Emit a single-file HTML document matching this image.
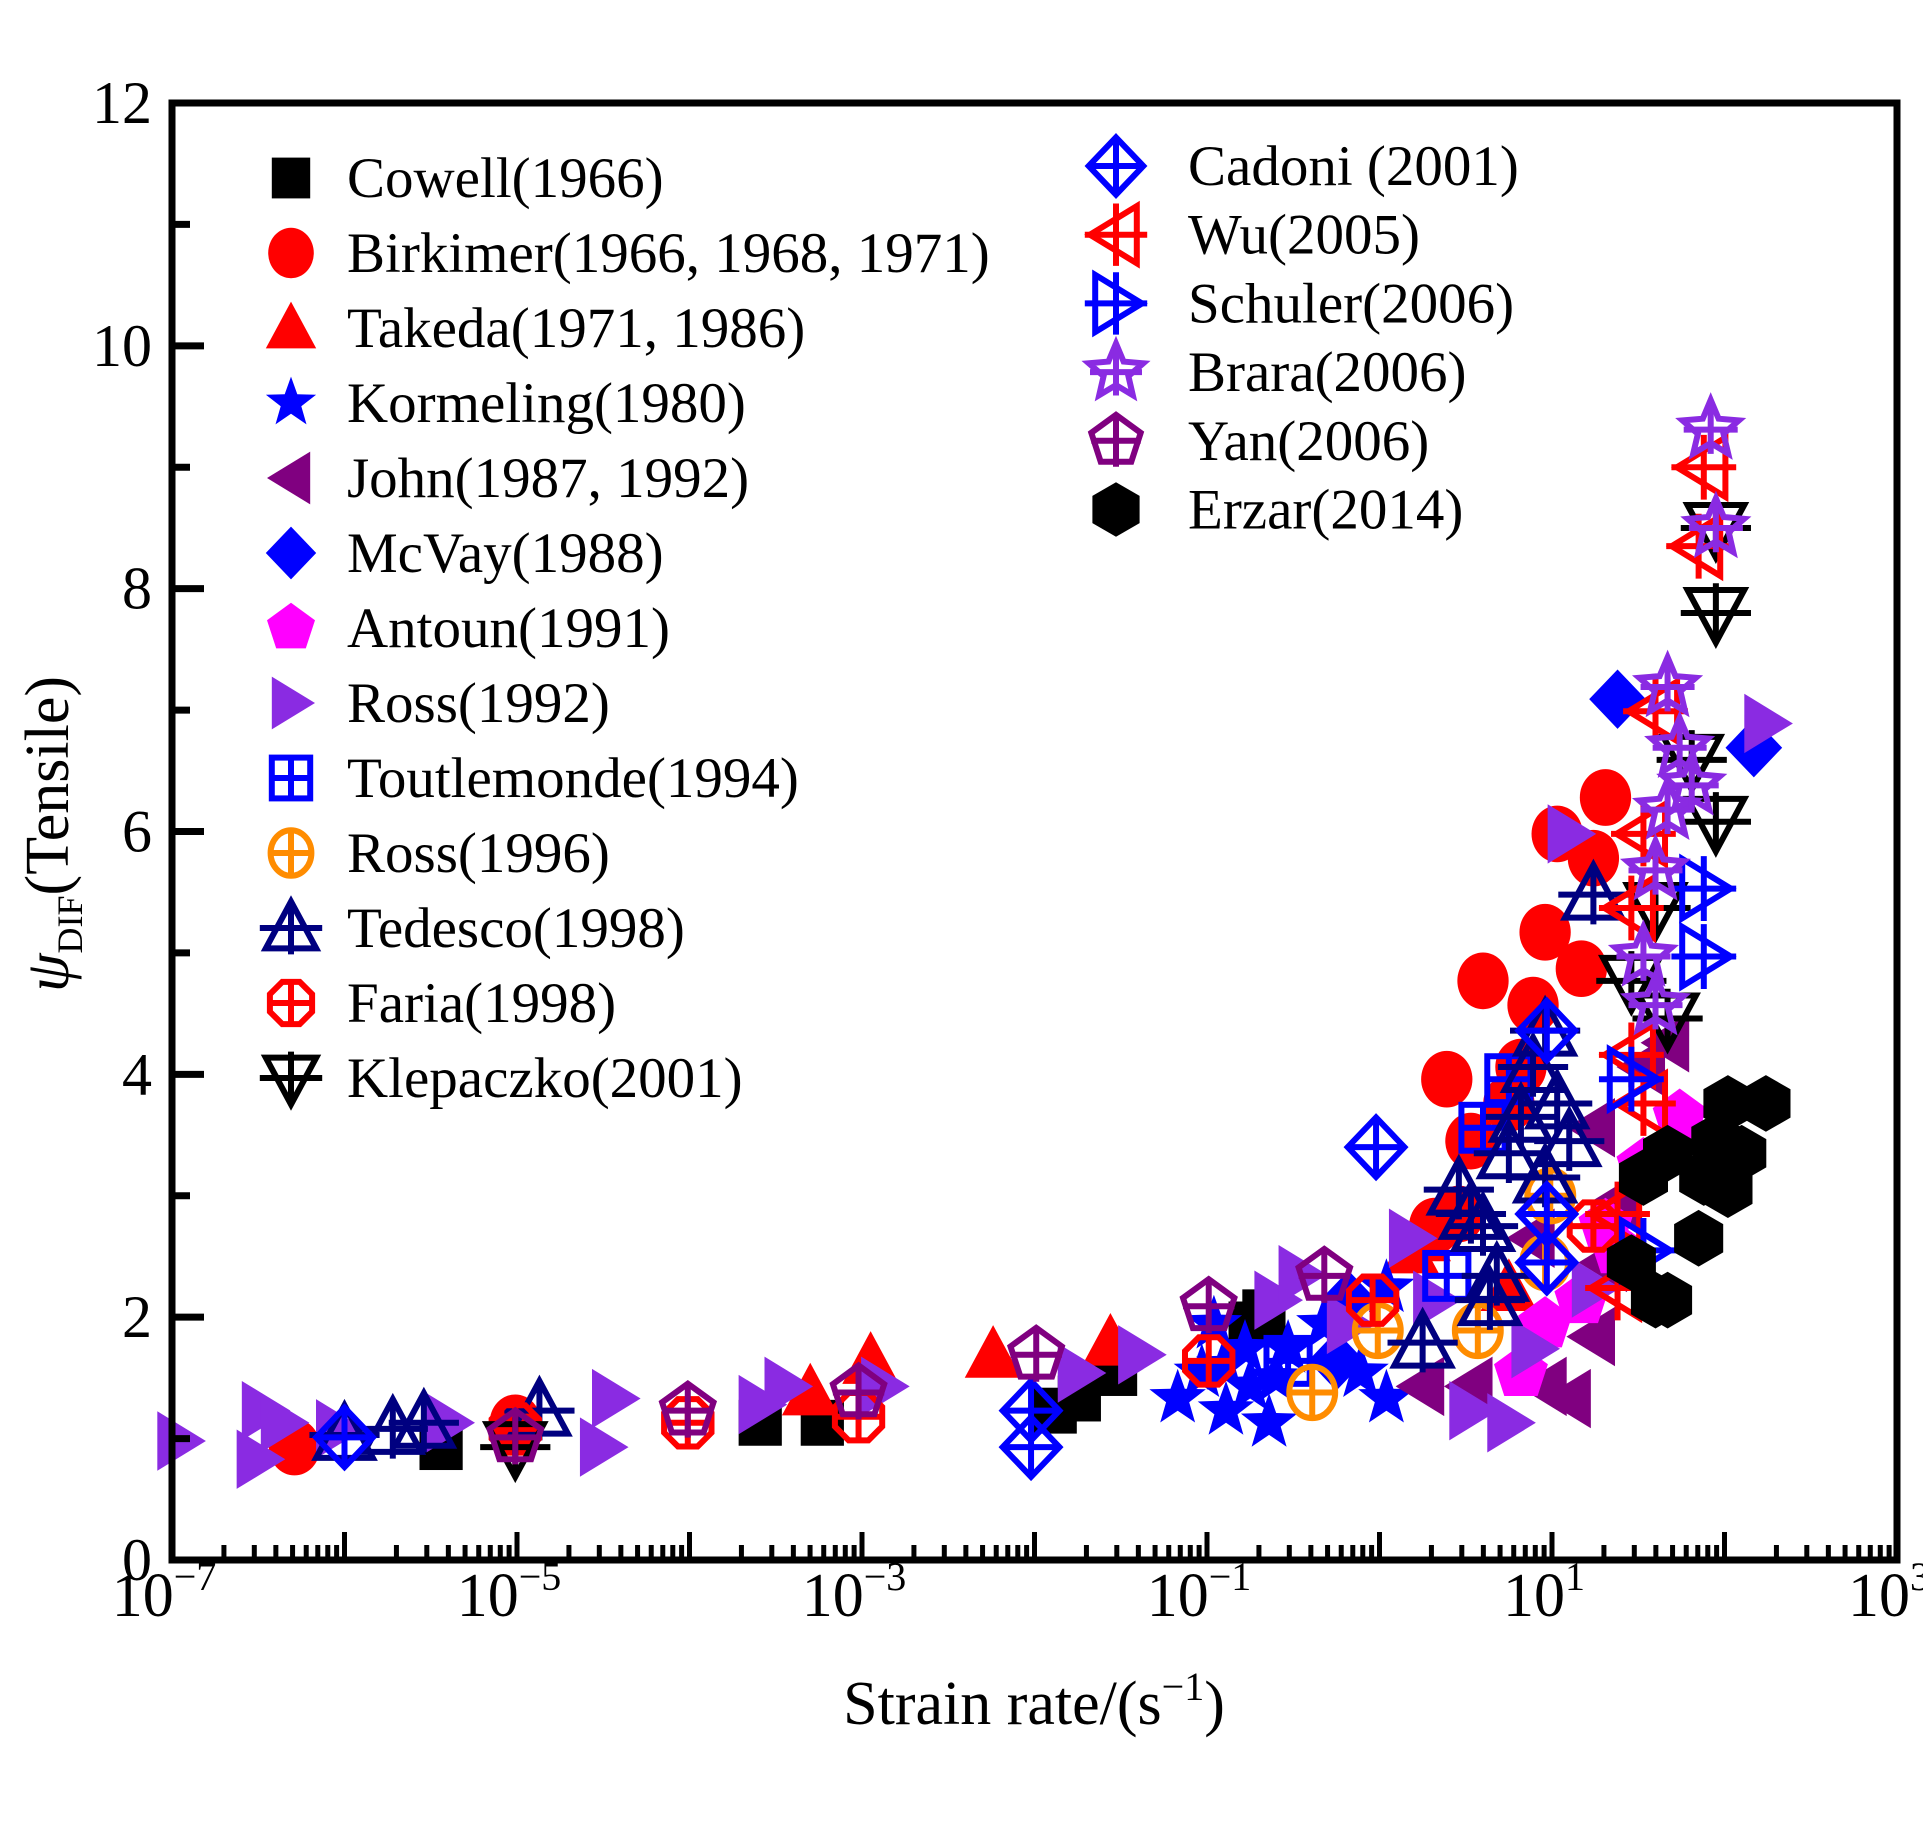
<!DOCTYPE html>
<html><head><meta charset="utf-8"><style>
html,body{margin:0;padding:0;background:#fff;}
svg text{font-family:"Liberation Serif",serif;fill:#000;}
</style></head><body>
<svg id="chart" width="1923" height="1819" viewBox="0 0 1923 1819" xmlns="http://www.w3.org/2000/svg">
<g id="marks"></g>
<g id="axes"></g>
<g id="legend"></g>
<text x="1034" y="1724" font-size="62" text-anchor="middle">Strain rate/(s<tspan dy="-24" font-size="40">−1</tspan><tspan dy="24">)</tspan></text>
<text transform="translate(68,834) rotate(-90)" font-size="62" text-anchor="middle"><tspan font-style="italic">ψ</tspan><tspan dy="14" font-size="36">DIF</tspan><tspan dy="-14">(Tensile)</tspan></text>
</svg>
<script>
const xTickLabels=["−7","−5","−3","−1","1","3"];
const yTickLabels=["0","2","4","6","8","10","12"];
const seriesNames=["Cowell(1966)","Birkimer(1966, 1968, 1971)","Takeda(1971, 1986)","Kormeling(1980)","John(1987, 1992)","McVay(1988)","Antoun(1991)","Ross(1992)","Toutlemonde(1994)","Ross(1996)","Tedesco(1998)","Faria(1998)","Klepaczko(2001)","Cadoni (2001)","Wu(2005)","Schuler(2006)","Brara(2006)","Yan(2006)","Erzar(2014)"];
const seriesShapes=["square","circle","triUp","star","triLeft","diamond","pentagon","triRight","boxPlus","circPlus","triUpOpen","octPlus","triDownOpen","diamPlus","triLeftOpen","triRightOpen","starOpen","pentPlus","hexagon"];
const seriesColors=["#000","#f00","#f00","#0000ff","#800080","#0000ff","#ff00ff","#8a2be2","#0000ff","#ff8c00","#000080","#f00","#000","#0000ff","#f00","#0000ff","#8a2be2","#800080","#000"];
// values: [log10 strain rate, DIF]
const cowell=[[-5.44,0.93],[-3.59,1.13],[-3.23,1.13],[-1.88,1.23],[-1.74,1.33],[-1.53,1.54],[-0.75,1.94],[-0.67,2.04]];
const birkimer=[[-6.29,0.93],[-5.01,1.13],[0.6,4.77],[0.39,3.96],[0.53,3.45],[0.46,2.85],[0.82,4.06],[0.96,5.17],[0.89,4.57],[1.24,5.78],[1.31,6.28],[1.17,4.87],[1.03,5.98],[0.75,3.76],[0.32,2.75]];
const takeda=[[-3.3,1.38],[-2.95,1.64],[-2.24,1.69],[-1.56,1.79],[0.18,2.55],[0.25,2.65],[0.75,2.24]];
const kormeling=[[-1.17,1.33],[-1.03,1.54],[-0.89,1.23],[-0.75,1.43],[-0.64,1.13],[-0.53,1.74],[-0.32,1.94],[-0.11,1.54],[0.04,1.33],[0.04,2.24],[-0.96,1.94],[-0.78,1.74],[-0.9,1.6],[-0.6,1.5]];
const john=[[0.25,1.43],[0.53,1.43],[0.96,1.43],[1.1,1.33],[1.24,1.84],[1.31,2.45],[1.38,2.95],[1.24,3.56],[1.53,4.06],[1.67,4.26],[0.89,2.65]];
const mcvay=[[1.38,7.09],[2.17,6.69],[-0.25,1.64],[-0.18,2.14]];
const antoun=[[0.96,1.94],[1.17,2.14],[1.38,2.55],[1.53,3.25],[1.74,3.65],[0.82,1.54],[1.31,2.75]];
const ross1992=[[-6.96,0.98],[-6.5,0.83],[-6.47,1.23],[-6.36,1.13],[-6.04,1.08],[-5.4,1.13],[-4.51,0.93],[-4.44,1.33],[-3.59,1.28],[-3.44,1.43],[-2.88,1.43],[-1.74,1.54],[-1.39,1.69],[-0.6,2.14],[-0.46,2.35],[0.18,2.65],[0.32,2.14],[0.53,1.23],[0.75,1.13],[0.89,1.74],[1.1,5.98],[1.24,2.24],[2.24,6.89],[-0.18,1.94]];
const toutlemonde=[[0.6,3.56],[0.75,3.96],[-0.53,1.64],[0.39,2.34]];
const ross1996=[[-0.39,1.38],[0.57,1.89],[-0.01,1.89],[0.99,3.0],[0.96,2.45]];
const tedesco=[[-6.0,1.03],[-5.72,1.08],[-5.54,1.13],[-4.87,1.23],[0.25,1.79],[0.46,3.05],[0.6,2.75],[0.68,2.34],[0.75,3.35],[0.82,3.65],[0.89,4.06],[0.96,4.36],[1.03,3.76],[1.1,3.45],[1.24,5.48],[0.64,2.14],[0.53,2.85],[0.96,3.15]];
const faria=[[-5.01,1.08],[-4.01,1.13],[-3.02,1.18],[-0.99,1.64],[-0.04,2.14],[1.24,2.75]];
const klepaczko=[[-5.01,0.93],[1.95,7.8],[1.95,8.5],[1.81,6.59],[1.95,6.08],[1.6,5.37],[1.46,4.77],[1.67,4.46]];
const cadoni=[[-6.0,1.01],[-2.02,1.23],[-2.02,0.93],[-0.02,3.4],[0.97,4.36],[0.97,2.85],[0.97,2.45]];
const wu=[[1.88,9.0],[1.85,8.35],[1.6,6.99],[1.53,5.98],[1.46,5.37],[1.46,4.16],[1.38,2.85],[1.38,2.24],[1.53,3.76]];
const schuler=[[1.88,5.53],[1.88,4.97],[1.46,3.96],[1.53,2.55]];
const brara=[[1.92,9.31],[1.95,8.5],[1.67,7.19],[1.74,6.69],[1.67,6.18],[1.6,5.68],[1.53,4.97],[1.6,4.57],[1.81,6.38]];
const yan=[[-5.01,1.01],[-4.01,1.23],[-3.02,1.38],[-1.99,1.69],[-0.99,2.09],[-0.32,2.34]];
const erzar=[[1.6,2.14],[1.67,2.14],[1.53,3.15],[1.67,3.35],[1.88,3.15],[1.95,3.45],[2.02,3.76],[2.24,3.76],[2.1,3.35],[1.85,2.65],[2.02,3.05],[1.46,2.45]];
const allSeries=[cowell,birkimer,takeda,kormeling,john,mcvay,antoun,ross1992,toutlemonde,ross1996,tedesco,faria,klepaczko,cadoni,wu,schuler,brara,yan,erzar];

const X0=172,X1=1897,Y0=1560,Y1=103;
function sx(l){return X0+(l+7)/10*(X1-X0);}
function sy(v){return Y0-v/12*(Y0-Y1);}
const NS="http://www.w3.org/2000/svg";
function mk(tag,attrs,parent){const e=document.createElementNS(NS,tag);for(const k in attrs)e.setAttribute(k,attrs[k]);parent.appendChild(e);return e;}
function poly(n,r,rot,cx,cy){let p=[];for(let i=0;i<n;i++){const a=rot+i*2*Math.PI/n;p.push((cx+r*Math.cos(a)).toFixed(1)+","+(cy+r*Math.sin(a)).toFixed(1));}return p.join(" ");}
function starPts(cx,cy,R,r){let p=[];for(let i=0;i<10;i++){const a=-Math.PI/2+i*Math.PI/5;const rr=i%2?r:R;p.push((cx+rr*Math.cos(a)).toFixed(1)+","+(cy+rr*Math.sin(a)).toFixed(1));}return p.join(" ");}
function drawMarker(g,shape,c,cx,cy,s){
  const sw=6;let el;const fill={fill:c,stroke:"none"};const open={fill:"none",stroke:c,"stroke-width":sw};
  const cross=(rx,ry)=>{mk("line",{x1:cx-rx,y1:cy,x2:cx+rx,y2:cy,stroke:c,"stroke-width":sw},g);mk("line",{x1:cx,y1:cy-ry,x2:cx,y2:cy+ry,stroke:c,"stroke-width":sw},g);};
  switch(shape){
    case "square":el=mk("rect",Object.assign({x:cx-s*0.8,y:cy-s*0.85,width:s*1.6,height:s*1.7},fill),g);break;
    case "circle":el=mk("ellipse",Object.assign({cx:cx,cy:cy,rx:s*0.95,ry:s*1.05},fill),g);break;
    case "triUp":el=mk("polygon",Object.assign({points:`${cx},${cy-s*1.1} ${cx+s*1.05},${cy+s*0.85} ${cx-s*1.05},${cy+s*0.85}`},fill),g);break;
    case "star":el=mk("polygon",Object.assign({points:starPts(cx,cy,s*1.1,s*0.45)},fill),g);break;
    case "triLeft":el=mk("polygon",Object.assign({points:`${cx-s*1.0},${cy} ${cx+s*0.8},${cy-s*1.1} ${cx+s*0.8},${cy+s*1.1}`},fill),g);break;
    case "diamond":el=mk("polygon",Object.assign({points:`${cx},${cy-s*1.1} ${cx+s*1.05},${cy} ${cx},${cy+s*1.1} ${cx-s*1.05},${cy}`},fill),g);break;
    case "pentagon":el=mk("polygon",Object.assign({points:poly(5,s*1.05,-Math.PI/2,cx,cy)},fill),g);break;
    case "triRight":el=mk("polygon",Object.assign({points:`${cx+s*1.0},${cy} ${cx-s*0.8},${cy-s*1.1} ${cx-s*0.8},${cy+s*1.1}`},fill),g);break;
    case "hexagon":el=mk("polygon",Object.assign({points:poly(6,s*1.05,-Math.PI/2,cx,cy)},fill),g);break;
    case "boxPlus":el=mk("rect",Object.assign({x:cx-s*0.8,y:cy-s*0.85,width:s*1.6,height:s*1.7},open),g);cross(s*0.8,s*0.85);break;
    case "circPlus":el=mk("ellipse",Object.assign({cx:cx,cy:cy,rx:s*0.85,ry:s*0.95},open),g);cross(s*0.85,s*0.95);break;
    case "octPlus":el=mk("polygon",Object.assign({points:poly(8,s*0.95,Math.PI/8,cx,cy)},open),g);cross(s*0.9,s*0.95);break;
    case "triUpOpen":el=mk("polygon",Object.assign({points:`${cx},${cy-s*1.1} ${cx+s*1.05},${cy+s*0.85} ${cx-s*1.05},${cy+s*0.85}`},open),g);cross(s*1.3,s*1.1);break;
    case "triDownOpen":el=mk("polygon",Object.assign({points:`${cx},${cy+s*1.1} ${cx+s*1.05},${cy-s*0.85} ${cx-s*1.05},${cy-s*0.85}`},open),g);cross(s*1.3,s*1.1);break;
    case "diamPlus":el=mk("polygon",Object.assign({points:`${cx},${cy-s*1.1} ${cx+s*1.05},${cy} ${cx},${cy+s*1.1} ${cx-s*1.05},${cy}`},open),g);cross(s*1.0,s*1.1);break;
    case "triLeftOpen":el=mk("polygon",Object.assign({points:`${cx-s*1.0},${cy} ${cx+s*0.8},${cy-s*1.1} ${cx+s*0.8},${cy+s*1.1}`},open),g);cross(s*1.2,s*1.2);break;
    case "triRightOpen":el=mk("polygon",Object.assign({points:`${cx+s*1.0},${cy} ${cx-s*0.8},${cy-s*1.1} ${cx-s*0.8},${cy+s*1.1}`},open),g);cross(s*1.2,s*1.2);break;
    case "starOpen":el=mk("polygon",Object.assign({points:starPts(cx,cy,s*1.1,s*0.5)},open),g);cross(s*1.0,s*0.9);break;
    case "pentPlus":el=mk("polygon",Object.assign({points:poly(5,s*1.0,-Math.PI/2,cx,cy)},open),g);cross(s*0.95,s*1.0);break;
  }
  return el;
}
const marks=document.getElementById("marks");
allSeries.forEach((ser,si)=>{
  const g=mk("g",{},marks);
  
  
  ser.forEach(d=>{
    const pg=mk("g",{},g);
    
    
    drawMarker(pg,seriesShapes[si],seriesColors[si],sx(d[0]),sy(d[1]),27);
  });
});
// axes
const ax=document.getElementById("axes");
const frame=mk("rect",{x:X0,y:Y1,width:X1-X0,height:Y0-Y1,fill:"none",stroke:"#000","stroke-width":7},ax);


for(let d=-7;d<3;d++){
  for(let m=1;m<10;m++){
    const l=d+Math.log10(m);const x=sx(l);const len=m===1?28:15;
    mk("line",{x1:x,y1:Y0,x2:x,y2:Y0-len,stroke:"#000","stroke-width":5},ax);
  }
}
xTickLabels.forEach((t,i)=>{
  const x=sx(-7+i*2);
  const tx=mk("text",{x:x-8,y:1616,"font-size":62,"text-anchor":"middle"},ax);
  
  
  tx.innerHTML='10<tspan dy="-26" font-size="40">'+t+'</tspan>';
});
for(let v=1;v<12;v++){
  const y=sy(v);const len=v%2===0?32:18;
  mk("line",{x1:X0,y1:y,x2:X0+len,y2:y,stroke:"#000","stroke-width":7},ax);
}
yTickLabels.forEach((t,i)=>{
  const tx=mk("text",{x:152,y:sy(i*2)+20,"font-size":60,"text-anchor":"end"},ax);
  
  
  tx.textContent=t;
});
// legend
const lg=document.getElementById("legend");
seriesNames.forEach((n,i)=>{
  let mx,ty,off;
  if(i<13){mx=291;ty=178+i*75;off=56;}else{mx=1116;ty=166+(i-13)*68.7;off=72;}
  const g=mk("g",{},lg);
  
  
  drawMarker(g,seriesShapes[i],seriesColors[i],mx,ty,i<13?24:26);
  const tx=mk("text",{x:mx+off,y:ty+19,"font-size":57},g);
  tx.textContent=n;
});
</script>
</body></html>
